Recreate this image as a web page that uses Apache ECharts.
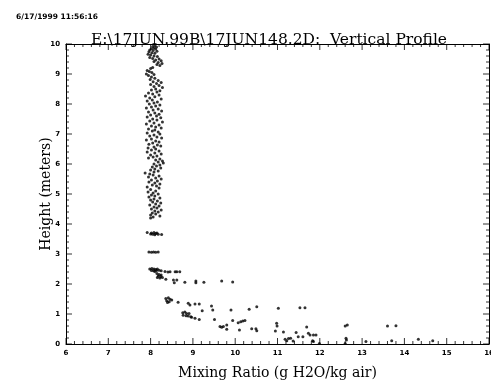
<!DOCTYPE html>
<html><head><meta charset="utf-8">
<script src="https://cdn.jsdelivr.net/npm/echarts@6/dist/echarts.min.js"></script>
<style>html,body{margin:0;padding:0;background:#fff}#c{width:491px;height:383px}</style>
</head><body><div id="c"></div>
<script>
const timestamp = '6/17/1999 11:56:16';
const chartTitle = 'E:\\17JUN.99B\\17JUN148.2D:  Vertical Profile';
const xName = 'Mixing Ratio (g H2O/kg air)';
const yName = 'Height (meters)';
const xTicks = [6,7,8,9,10,11,12,13,14,15,16];
const yTicks = [0,1,2,3,4,5,6,7,8,9,10];
const minorPerMajor = 5;

// [mixing ratio, height]
const upperColumn = [[8.10,9.95],[8.05,9.92],[8.14,9.9],[8.08,9.87],[8.02,9.84],[8.12,9.83],[7.98,9.8],[8.06,9.78],[8.15,9.76],[7.96,9.74],[8.03,9.71],[8.1,9.69],[7.94,9.66],[8.0,9.63],[8.08,9.6],[8.16,9.58],[7.98,9.55],[8.05,9.52],[8.2,9.5],[8.12,9.47],[8.25,9.44],[8.08,9.42],[8.18,9.38],[8.27,9.35],[8.15,9.32],[8.22,9.28],
[8.05,9.22],[8.0,9.18],[7.92,9.12],[7.97,9.08],[8.03,9.05],[7.9,9.0],[8.08,8.98],[7.95,8.95],[8.02,8.9],[8.1,8.86],[7.99,8.82],
[8.18,8.78],[8.06,8.74],[8.25,8.72],[8.14,8.68],[8.0,8.65],[8.2,8.62],[8.08,8.58],[8.28,8.55],[8.12,8.5],[8.02,8.47],[8.22,8.44],[8.15,8.4],[7.95,8.37],[8.05,8.33],
[8.2,8.3],[7.88,8.27],[8.1,8.24],[7.98,8.2],[8.25,8.17],[8.04,8.13],[7.92,8.1],[8.16,8.07],[8.08,8.03],[7.97,8.0],[8.22,7.97],[8.12,7.93],[8.02,7.9],[7.9,7.87],[8.18,7.83],[8.06,7.8],[8.26,7.77],[7.95,7.73],[8.1,7.7],[8.2,7.66],[8.0,7.63],
[8.14,7.6],[7.92,7.57],[8.24,7.54],[8.05,7.5],[8.15,7.47],[7.98,7.43],[8.28,7.4],[8.08,7.37],[7.9,7.33],[8.2,7.3],[8.02,7.27],[8.12,7.23],[8.25,7.2],
[7.95,7.17],[8.1,7.13],[8.04,7.1],[8.18,7.07],[7.92,7.03],[8.22,7.0],[8.08,6.97],[7.98,6.93],[8.15,6.9],[8.26,6.87],[8.02,6.83],[7.9,6.8],[8.12,6.77],[8.2,6.73],[8.05,6.7],[7.96,6.66],[8.16,6.63],[8.24,6.6],[8.08,6.57],[7.94,6.53],[8.12,6.5]];

const midColumn = [[8.02,6.47],[8.2,6.43],[7.92,6.4],[8.1,6.37],[8.25,6.33],[8.0,6.3],[8.15,6.27],[8.06,6.23],[7.95,6.2],[8.22,6.17],[8.12,6.13],[8.28,6.1],[8.18,6.07],[8.3,6.03],[8.08,6.0],[8.22,5.97],[8.14,5.93],[8.04,5.9],[8.24,5.87],[8.1,5.83],[8.0,5.8],[8.18,5.77],[8.08,5.73],[7.87,5.7],[7.98,5.67],[8.06,5.63],[8.2,5.6],[7.95,5.57],[8.12,5.53],[8.25,5.5],[8.02,5.47],[8.16,5.43],[7.96,5.4],[8.1,5.37],[8.22,5.33],[8.04,5.3],[8.14,5.27],[7.92,5.23],[8.2,5.2],[8.0,5.15],[8.12,5.1],[7.94,5.07],[8.06,5.03],[8.18,5.0],[8.02,4.97],[8.1,4.93],[7.96,4.9],[8.22,4.87],[8.08,4.83],[8.0,4.8],[8.16,4.77],[8.05,4.73],[8.24,4.7],[8.12,4.67],[7.98,4.63],[8.2,4.6],[8.08,4.57],[8.15,4.53],[8.02,4.5],[8.25,4.47],[8.1,4.43],[8.18,4.4],[8.04,4.37],[8.12,4.33],[8.0,4.3],[8.22,4.27],[8.06,4.23],[8.0,4.2]];

const lowerClusters = [[7.92,3.72],[8.02,3.7],[8.08,3.72],[8.12,3.68],[8.05,3.66],[8.15,3.7],[8.1,3.64],[8.18,3.66],[8.26,3.65],[8.0,3.67],
[7.96,3.07],[8.02,3.06],[8.07,3.07],[8.12,3.06],[8.18,3.07],
[7.98,2.5],[8.03,2.52],[8.08,2.5],[8.12,2.48],[8.16,2.5],[8.02,2.45],[8.07,2.44],[8.14,2.45],[8.2,2.46],[8.25,2.44],[8.1,2.42],[8.34,2.42],[8.41,2.4],[8.46,2.41],[8.58,2.41],[8.62,2.41],[8.69,2.41],
[8.15,2.35],[8.2,2.32],[8.25,2.3],[8.18,2.27],[8.24,2.25],[8.28,2.22],[8.16,2.22],[8.22,2.2]];

const tailPoints = [[8.36,2.16],[8.54,2.13],[8.56,2.04],[8.62,2.13],[8.81,2.06],[9.07,2.1],[9.07,2.04],[9.26,2.06],[9.68,2.1],[9.94,2.07],
[8.36,1.52],[8.42,1.54],[8.46,1.49],[8.38,1.44],[8.44,1.41],[8.5,1.47],[8.4,1.38],[8.65,1.39],
[8.89,1.36],[8.93,1.3],[9.05,1.33],[9.15,1.33],[9.44,1.27],[9.47,1.13],[9.22,1.11],[9.9,1.13],[10.33,1.16],[10.51,1.24],[11.02,1.19],[11.53,1.21],[11.65,1.21],
[8.76,1.04],[8.81,1.07],[8.85,1.02],[8.91,1.02],[8.77,0.96],[8.84,0.94],[8.89,0.93],[8.95,0.91],[8.97,0.89],[9.05,0.86],[9.15,0.82],[9.51,0.82],
[9.64,0.58],[9.68,0.56],[9.72,0.58],[9.8,0.63],[9.8,0.49],[9.94,0.78],[10.07,0.71],[10.13,0.74],[10.18,0.77],[10.23,0.78],[10.1,0.47],
[10.39,0.51],[10.49,0.51],[10.51,0.44],[10.98,0.69],[10.99,0.6],[10.95,0.43],[11.14,0.4],[11.18,0.16],[11.22,0.11],[11.26,0.18],[11.31,0.19],[11.37,0.1],
[11.44,0.38],[11.49,0.24],[11.6,0.24],[11.69,0.57],[11.73,0.36],[11.77,0.3],[11.85,0.3],[11.91,0.3],[11.83,0.11],[11.85,0.08],[11.99,0.02],
[12.6,0.6],[12.65,0.63],[12.62,0.19],[12.63,0.13],[12.6,0.02],[13.09,0.08],[13.6,0.6],[13.7,0.11],[13.8,0.61],[14.33,0.16],[14.67,0.11]];

const allPoints = upperColumn.concat(midColumn, lowerClusters, tailPoints);

const xMin = xTicks[0], xMax = xTicks[xTicks.length-1];
const yMin = yTicks[0], yMax = yTicks[yTicks.length-1];

function minorValues(ticks){
  const out = [];
  for (let i = 0; i < ticks.length - 1; i++) {
    const step = (ticks[i+1] - ticks[i]) / minorPerMajor;
    for (let k = 1; k < minorPerMajor; k++) out.push(+(ticks[i] + step*k).toFixed(4));
  }
  return out;
}
const xMinor = minorValues(xTicks);
const yMinor = minorValues(yTicks);

// tick marks drawn as thin rect symbols placed by the axes
function tickSeries(values, edge, len){
  const horizontal = (edge === 'bottom' || edge === 'top');
  const data = values.map(v => horizontal ? [v, edge === 'bottom' ? yMin : yMax] : [edge === 'left' ? xMin : xMax, v]);
  let offset;
  if (edge === 'bottom') offset = [0, -len/2];
  else if (edge === 'top') offset = [0, len/2];
  else if (edge === 'left') offset = [len/2, 0];
  else offset = [-len/2, 0];
  return {type:'scatter', xAxisIndex:0, yAxisIndex:0, data:data, symbol:'rect',
    symbolSize: horizontal ? [1, len] : [len, 1], symbolOffset:offset,
    itemStyle:{color:'#000'}, clip:false, silent:true, z:3};
}

const chart = echarts.init(document.getElementById('c'));
const nameStyle = {fontFamily:'DejaVu Serif', fontSize:14, color:'#000'};
const labelStyle = {fontSize:7, fontWeight:'bold', color:'#000', fontFamily:'DejaVu Sans', margin:6};

chart.setOption({
  animation:false,
  title:[
    {text:timestamp, left:11, top:8, textStyle:{fontSize:7.5, fontWeight:'bold', fontFamily:'DejaVu Sans', color:'#000'}},
    {text:chartTitle, left:86, top:27, textStyle:{fontSize:15.5, fontWeight:'normal', fontFamily:'DejaVu Serif', color:'#000'}}
  ],
  grid:{left:66, right:2, top:44, bottom:39, outerBoundsMode:'none'},
  xAxis:[
    {type:'value', min:xMin, max:xMax, interval:1,
     name:xName, nameLocation:'middle', nameGap:22, nameMoveOverlap:false, nameTextStyle:nameStyle,
     axisLine:{show:true, onZero:false, lineStyle:{color:'#000'}},
     axisTick:{show:false}, minorTick:{show:false},
     axisLabel:labelStyle, splitLine:{show:false}},
    {type:'value', position:'top', min:xMin, max:xMax, interval:1,
     axisLine:{show:true, onZero:false, lineStyle:{color:'#000'}},
     axisTick:{show:false}, axisLabel:{show:false}, splitLine:{show:false}}
  ],
  yAxis:[
    {type:'value', min:yMin, max:yMax, interval:1,
     name:yName, nameLocation:'middle', nameGap:13, nameMoveOverlap:false, nameTextStyle:nameStyle,
     axisLine:{show:true, onZero:false, lineStyle:{color:'#000'}},
     axisTick:{show:false}, minorTick:{show:false},
     axisLabel:labelStyle, splitLine:{show:false}},
    {type:'value', position:'right', min:yMin, max:yMax, interval:1,
     axisLine:{show:true, onZero:false, lineStyle:{color:'#000'}},
     axisTick:{show:false}, axisLabel:{show:false}, splitLine:{show:false}}
  ],
  series:[
    tickSeries(xTicks, 'bottom', 6), tickSeries(xMinor, 'bottom', 3),
    tickSeries(xTicks, 'top', 6), tickSeries(xMinor, 'top', 3),
    tickSeries(yTicks, 'left', 6), tickSeries(yMinor, 'left', 3),
    tickSeries(yTicks, 'right', 6), tickSeries(yMinor, 'right', 3),
    {type:'scatter', xAxisIndex:0, yAxisIndex:0, data:allPoints, symbol:'circle', symbolSize:3,
     itemStyle:{color:'#000'}, z:4}
  ]
});
</script></body></html>
